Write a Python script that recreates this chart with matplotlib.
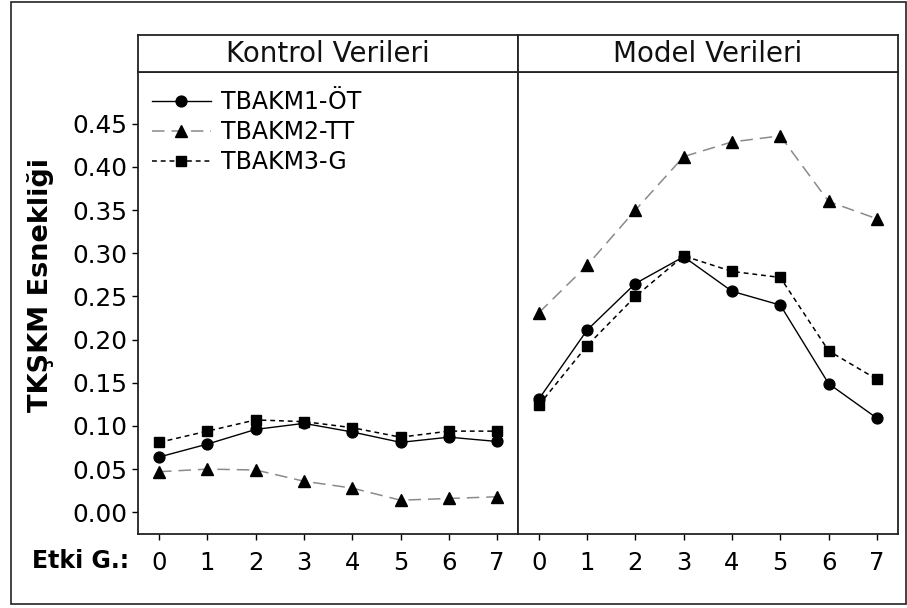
import numpy as np
import matplotlib
matplotlib.use("Agg")
import matplotlib.pyplot as plt
from matplotlib.patches import Rectangle

plt.rcParams["font.family"] = ["DejaVu Sans"]
plt.rcParams["lines.scale_dashes"] = False

etki = [0, 1, 2, 3, 4, 5, 6, 7]
panels = ["Kontrol Verileri", "Model Verileri"]
series_names = ["TBAKM1-ÖT", "TBAKM2-TT", "TBAKM3-G"]

# Kontrol Verileri
kontrol_ot = [0.064, 0.079, 0.096, 0.103, 0.093, 0.081, 0.087, 0.082]
kontrol_tt = [0.047, 0.050, 0.049, 0.036, 0.028, 0.014, 0.016, 0.018]
kontrol_g = [0.081, 0.094, 0.107, 0.105, 0.098, 0.087, 0.094, 0.094]

# Model Verileri
model_ot = [0.131, 0.211, 0.265, 0.296, 0.256, 0.240, 0.149, 0.109]
model_tt = [0.231, 0.286, 0.350, 0.412, 0.429, 0.436, 0.360, 0.340]
model_g = [0.124, 0.193, 0.250, 0.297, 0.279, 0.272, 0.187, 0.154]

yticks = [0.00, 0.05, 0.10, 0.15, 0.20, 0.25, 0.30, 0.35, 0.40, 0.45]

W, H = 907, 608
fig = plt.figure(figsize=(W / 100, H / 100), dpi=100)

# outer frame
fig.patches.append(Rectangle((11 / W, 1 - 604 / H), (906 - 11) / W, (604 - 1.5) / H,
                             transform=fig.transFigure, fill=False,
                             edgecolor="#222222", linewidth=1.2))

left0, right_split, right1 = 138.3, 518.0, 897.7
top_strip, top_plot, bottom = 35.0, 72.0, 534.3
pw = (right_split - left0) / W

styles = [
    dict(color="black", marker="o", markersize=7.8, linewidth=1.0, linestyle="-"),
    dict(color="#8a8a8a", marker="^", markersize=8.8, linewidth=1.1,
         dashes=(9, 5), markerfacecolor="black", markeredgecolor="black"),
    dict(color="black", marker="s", markersize=7.4, linewidth=1.1, dashes=(3.5, 2.8)),
]

data = [[kontrol_ot, kontrol_tt, kontrol_g], [model_ot, model_tt, model_g]]

axes = []
for i, title in enumerate(panels):
    x0 = (left0 + i * (right_split - left0)) / W
    ax = fig.add_axes([x0, 1 - bottom / H, pw, (bottom - top_plot) / H])
    for vals, name, st in zip(data[i], series_names, styles):
        ax.plot(etki, vals, label=name, **st)
    ax.set_xlim(-0.43, 7.43)
    ax.set_ylim(-0.0255, 0.510)
    ax.set_xticks(etki)
    ax.tick_params(axis="x", direction="out", length=4, width=1, pad=8,
                   labelsize=17.5)
    if i == 0:
        ax.set_yticks(yticks)
        ax.set_yticklabels([f"{v:.2f}" for v in yticks])
        ax.tick_params(axis="y", direction="out", length=4, width=1, pad=4,
                       labelsize=17.8)
    else:
        ax.set_yticks([])
    for sp in ax.spines.values():
        sp.set_linewidth(1.3)
        sp.set_color("#222222")
    axes.append(ax)

    sax = fig.add_axes([x0, 1 - top_plot / H, pw, (top_plot - top_strip) / H])
    sax.set_xticks([])
    sax.set_yticks([])
    for sp in sax.spines.values():
        sp.set_linewidth(1.3)
        sp.set_color("#222222")
    sax.text(0.5, 0.5, title, ha="center", va="center", fontsize=20,
             color="#111111", transform=sax.transAxes)

leg = axes[0].legend(loc="upper left", bbox_to_anchor=(0.035, 0.96),
                     frameon=False, fontsize=17, handlelength=2.5,
                     handletextpad=0.45, labelspacing=0.25, borderpad=0,
                     borderaxespad=0)

fig.text(41 / W, 1 - 285 / H, "TKŞKM Esnekliği", rotation=90, ha="center",
         va="center", fontsize=19.5, fontweight="bold")
fig.text(32 / W, 1 - 561 / H, "Etki G.:", ha="left", va="center",
         fontsize=17, fontweight="bold")

fig.savefig("out.png", dpi=100)
